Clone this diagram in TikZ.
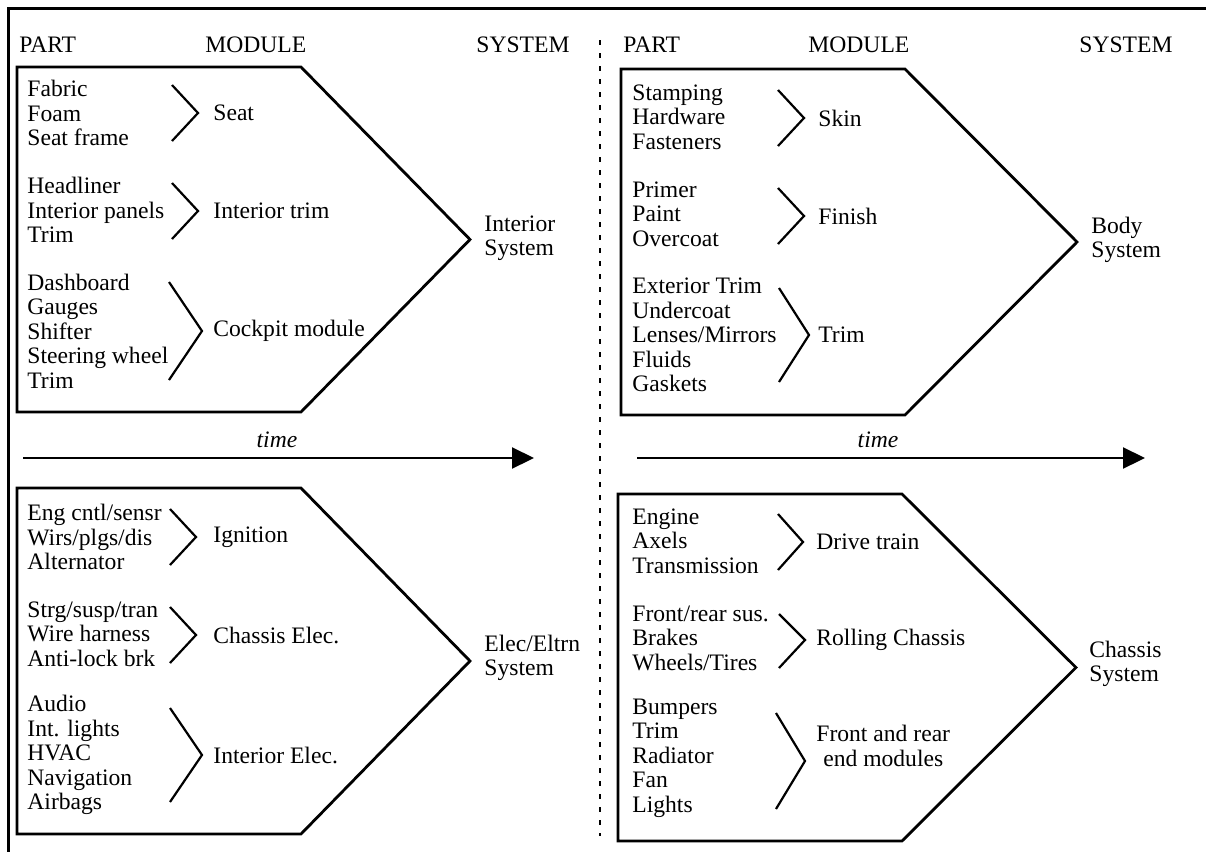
\documentclass[tikz,border=0pt]{standalone}
\usepackage{fontspec}
\setmainfont{Liberation Serif}
\usetikzlibrary{arrows.meta}
\tikzset{
  txt/.style={font=\fontsize{11.8pt}{12.25pt}\selectfont, inner sep=0pt},
  part/.style={txt, align=left, anchor=west},
  module/.style={txt, align=center, anchor=west},
  head/.style={txt, anchor=west},
  tlabel/.style={txt, font=\fontsize{11.8pt}{12.25pt}\selectfont\itshape},
  pent/.style={line width=1.4pt, line join=miter},
  brack/.style={line width=1.1pt},
  timeline/.style={line width=1.1pt, -{Triangle[length=11pt,width=10.5pt]}},
}
\begin{document}
\begin{tikzpicture}[x=0.5pt,y=-0.5pt]
\useasboundingbox (0,0) rectangle (1206,852);
% frame and divider
\draw [line width=1.3pt] (1206,8.5) -- (8.5,8.5) -- (8.5,852);
\draw [line width=0.8pt, dash pattern=on 2.5pt off 4pt] (600,40) -- (600,836);

% headers
\node [head] (partl) at (19,45) {PART};
\node [head] (modl) at (205,45) {MODULE};
\node [head] (sysl) at (476,45) {SYSTEM};
\node [head] (partr) at (623,45) {PART};
\node [head] (modr) at (808,45) {MODULE};
\node [head] (sysr) at (1079,45) {SYSTEM};

% time arrows
\coordinate (tla) at (23,458);
\coordinate (tlb) at (534,458);
\draw [timeline] (tla) -- (tlb);
\node [tlabel] (timel) at (277,440) {time};
\coordinate (tra) at (637,458);
\coordinate (trb) at (1145,458);
\draw [timeline] (tra) -- (trb);
\node [tlabel] (timer) at (878,440) {time};

% interior system
\draw [pent] (17,67) -- (301,67) -- (470,239.5) -- (301,412) -- (17,412) -- cycle;
\node [part] (seatp) at (27,113) {Fabric\\Foam\\Seat frame};
\node [module] (seat) at (213,113) {Seat};
\coordinate (kseat) at (198,113);
\draw [brack] (kseat) ++(-26,-28) -- (kseat) -- ++(-26,28);
\node [part] (trimp) at (27,210) {Headliner\\Interior panels\\Trim};
\node [module] (trim) at (213,211) {Interior trim};
\coordinate (ktrim) at (198,211);
\draw [brack] (ktrim) ++(-26,-28) -- (ktrim) -- ++(-26,28);
\node [part] (cockp) at (27,331) {Dashboard\\Gauges\\Shifter\\Steering wheel\\Trim};
\node [module] (cock) at (213,331) {Cockpit module};
\coordinate (kcock) at (202,331);
\draw [brack] (kcock) ++(-33,-49) -- (kcock) -- ++(-33,49);
\node [part] (intsys) at (484,238) {Interior\\System};

% elec system
\draw [pent] (17,488) -- (301,488) -- (470,661) -- (301,834) -- (17,834) -- cycle;
\node [part] (ignp) at (27,537) {Eng cntl/sensr\\Wirs/plgs/dis\\Alternator};
\node [module] (ign) at (213,537) {Ignition};
\coordinate (kign) at (196,537);
\draw [brack] (kign) ++(-26,-28) -- (kign) -- ++(-26,28);
\node [part] (chelp) at (27,634) {Strg/susp/tran\\Wire harness\\Anti-lock brk};
\node [module] (chel) at (213,635) {Chassis Elec.};
\coordinate (kchel) at (196,635);
\draw [brack] (kchel) ++(-26,-28) -- (kchel) -- ++(-26,28);
\node [part] (inelp) at (27,755) {Audio\\Int. lights\\HVAC\\Navigation\\Airbags};
\node [module] (inel) at (213,755) {Interior Elec.};
\coordinate (kinel) at (202,755);
\draw [brack] (kinel) ++(-32,-47) -- (kinel) -- ++(-32,47);
\node [part] (elsys) at (484,658) {Elec/Eltrn\\System};

% body system
\draw [pent] (621,69) -- (905,69) -- (1077,242) -- (905,415) -- (621,415) -- cycle;
\node [part] (skinp) at (632,117) {Stamping\\Hardware\\Fasteners};
\node [module] (skin) at (818,118) {Skin};
\coordinate (kskin) at (804,118);
\draw [brack] (kskin) ++(-26,-28) -- (kskin) -- ++(-26,28);
\node [part] (finp) at (632,214) {Primer\\Paint\\Overcoat};
\node [module] (fin) at (818,216) {Finish};
\coordinate (kfin) at (804,216);
\draw [brack] (kfin) ++(-26,-28) -- (kfin) -- ++(-26,28);
\node [part] (btrimp) at (632,335) {Exterior Trim\\Undercoat\\Lenses/Mirrors\\Fluids\\Gaskets};
\node [module] (btrim) at (818,335) {Trim};
\coordinate (kbtrim) at (809,335);
\draw [brack] (kbtrim) ++(-30,-47) -- (kbtrim) -- ++(-30,47);
\node [part] (bodsys) at (1091,240) {Body\\System};

% chassis system
\draw [pent] (618,494) -- (902,494) -- (1076,667.5) -- (902,841) -- (618,841) -- cycle;
\node [part] (drvp) at (632,541) {Engine\\Axels\\Transmission};
\node [module] (drv) at (816,542) {Drive train};
\coordinate (kdrv) at (803,542);
\draw [brack] (kdrv) ++(-25,-28) -- (kdrv) -- ++(-25,28);
\node [part] (rollp) at (632,638) {Front/rear sus.\\Brakes\\Wheels/Tires};
\node [module] (roll) at (816,640) {Rolling Chassis};
\coordinate (kroll) at (805,640);
\draw [brack] (kroll) ++(-26,-26) -- (kroll) -- ++(-26,28);
\node [part] (endp) at (632,758) {Bumpers\\Trim\\Radiator\\Fan\\Lights};
\node [module] (endm) at (816,746) {Front and rear\\end modules};
\coordinate (kend) at (805,761);
\draw [brack] (kend) ++(-29,-48) -- (kend) -- ++(-29,48);
\node [part] (chsys) at (1089,664) {Chassis\\System};
\end{tikzpicture}
\end{document}
